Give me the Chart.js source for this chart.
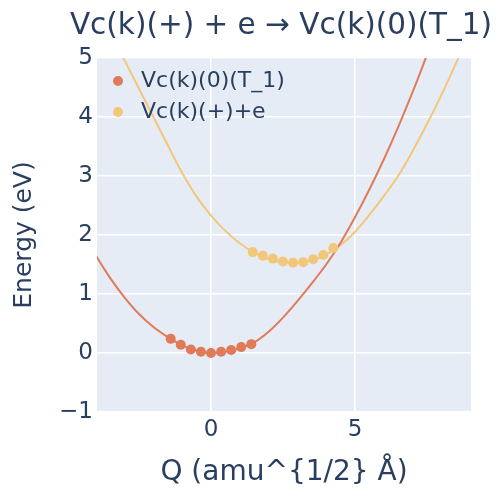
<!DOCTYPE html>
<html>
<head>
<meta charset="utf-8">
<script src="https://cdn.jsdelivr.net/npm/chart.js@4"></script>
<style>
  html, body { margin: 0; padding: 0; background: #fff; }
  #wrap { width: 498px; height: 494px; }
</style>
</head>
<body>
<div id="wrap"><canvas id="chart" width="498" height="494"></canvas></div>
<script>
// Curve samples (Q, E)
const groundQ = [-4.0, -3.5, -3.0, -2.5, -2.0, -1.5, -1.0, -0.5, 0, 0.5, 1.0, 1.5, 2.0, 2.5, 3.0, 3.5, 4.0, 4.5, 5.0, 5.5, 6.0, 6.5, 7.0, 7.5];
const groundE = [1.65, 1.27, 0.94, 0.66, 0.44, 0.27, 0.13, 0.04, 0, 0.02, 0.08, 0.18, 0.36, 0.60, 0.88, 1.18, 1.50, 1.87, 2.30, 2.77, 3.28, 3.83, 4.42, 5.05];

const chargedQ = [-3.5, -3.0, -2.5, -2.0, -1.5, -1.0, -0.5, 0, 0.5, 1.0, 1.5, 2.0, 2.5, 3.0, 3.5, 4.0, 4.5, 5.0, 5.5, 6.0, 6.5, 7.0, 7.5, 8.0, 8.5, 9.0];
const chargedE = [5.42, 4.96, 4.48, 4.00, 3.52, 3.05, 2.65, 2.33, 2.07, 1.86, 1.70, 1.59, 1.54, 1.53, 1.57, 1.67, 1.83, 2.05, 2.34, 2.66, 3.00, 3.42, 3.88, 4.37, 4.90, 5.45];

// Computed points
const groundPtsQ = [-1.4, -1.05, -0.7, -0.35, 0, 0.35, 0.7, 1.05, 1.4];
const groundPtsE = [0.24, 0.14, 0.06, 0.02, 0, 0.02, 0.05, 0.10, 0.15];
const chargedPtsQ = [1.45, 1.8, 2.15, 2.5, 2.85, 3.2, 3.55, 3.9, 4.25];
const chargedPtsE = [1.71, 1.65, 1.60, 1.55, 1.53, 1.54, 1.59, 1.66, 1.78];

const seriesNames = ['Vc(k)(0)(T_1)', 'Vc(k)(+)+e'];
const titleText = 'Vc(k)(+) + e \u2192 Vc(k)(0)(T_1)';
const xTicks = [0, 5];
const yTicks = [-1, 0, 1, 2, 3, 4, 5];

const orange = 'rgb(224,122,88)';
const yellow = 'rgb(243,199,122)';
const textColor = '#2a3f5f';
const FONT = "'DejaVu Sans', Verdana, sans-serif";

const pairs = (xs, ys) => xs.map((x, i) => ({ x: x, y: ys[i] }));

const bgPlugin = {
    id: 'bg',
    beforeDraw(chart) {
        const { ctx, chartArea: a } = chart;
        ctx.save();
        ctx.fillStyle = '#E5ECF6';
        ctx.fillRect(a.left, a.top, a.right - a.left, a.bottom - a.top);
        ctx.restore();
    },
    afterDraw(chart) {
        const { ctx, chartArea: a } = chart;
        ctx.save();
        // title
        ctx.fillStyle = textColor;
        ctx.font = '29.5px ' + FONT;
        ctx.textAlign = 'center';
        ctx.textBaseline = 'middle';
        ctx.fillText(titleText, 281, 26);
        // legend inside plot
        ctx.font = '22px ' + FONT;
        ctx.textAlign = 'left';
        [orange, yellow].forEach((c, i) => {
            const y = 81 + i * 31;
            ctx.fillStyle = c;
            ctx.beginPath();
            ctx.arc(118, y, 5, 0, Math.PI * 2);
            ctx.fill();
            ctx.fillStyle = textColor;
            ctx.fillText(seriesNames[i], 141, y);
        });
        ctx.restore();
    }
};

new Chart(document.getElementById('chart'), {
    type: 'scatter',
    data: {
        datasets: [
            { label: seriesNames[0], data: pairs(groundPtsQ, groundPtsE), backgroundColor: orange, borderColor: orange, pointRadius: 5, pointBorderWidth: 0, showLine: false },
            { label: seriesNames[1], data: pairs(chargedPtsQ, chargedPtsE), backgroundColor: yellow, borderColor: yellow, pointRadius: 5, pointBorderWidth: 0, showLine: false },
            { label: 'fit0', data: pairs(groundQ, groundE), borderColor: orange, borderWidth: 2, pointRadius: 0, showLine: true, cubicInterpolationMode: 'monotone' },
            { label: 'fit+', data: pairs(chargedQ, chargedE), borderColor: yellow, borderWidth: 2, pointRadius: 0, showLine: true, cubicInterpolationMode: 'monotone' }
        ]
    },
    options: {
        responsive: false,
        animation: false,
        layout: { padding: { top: 58, right: 27, left: 0, bottom: 0 } },
        plugins: { legend: { display: false }, tooltip: { enabled: false }, title: { display: false } },
        scales: {
            x: {
                type: 'linear', min: -3.96, max: 9.03,
                afterBuildTicks: s => { s.ticks = xTicks.map(v => ({ value: v })); },
                afterFit: s => { s.height = 82; },
                grid: { color: '#ffffff', lineWidth: 1.5, drawTicks: false },
                border: { display: false },
                ticks: { color: textColor, font: { family: FONT, size: 23 }, padding: 4, maxRotation: 0 },
                title: { display: true, text: 'Q (amu^{1/2} \u00c5)', color: textColor, font: { family: FONT, size: 28 }, padding: { top: 0, bottom: 4 } }
            },
            y: {
                type: 'linear', min: -1, max: 5,
                afterBuildTicks: s => { s.ticks = yTicks.map(v => ({ value: v })); },
                afterFit: s => { s.width = 97; },
                grid: { color: '#ffffff', lineWidth: 1.5, drawTicks: false },
                border: { display: false },
                ticks: { color: textColor, font: { family: FONT, size: 23 }, padding: 4, callback: v => (v < 0 ? '\u2212' + Math.abs(v) : String(v)) },
                title: { display: true, text: 'Energy (eV)', color: textColor, font: { family: FONT, size: 25 }, padding: { top: 9, bottom: 0 } }
            }
        }
    },
    plugins: [bgPlugin]
});
</script>
</body>
</html>
